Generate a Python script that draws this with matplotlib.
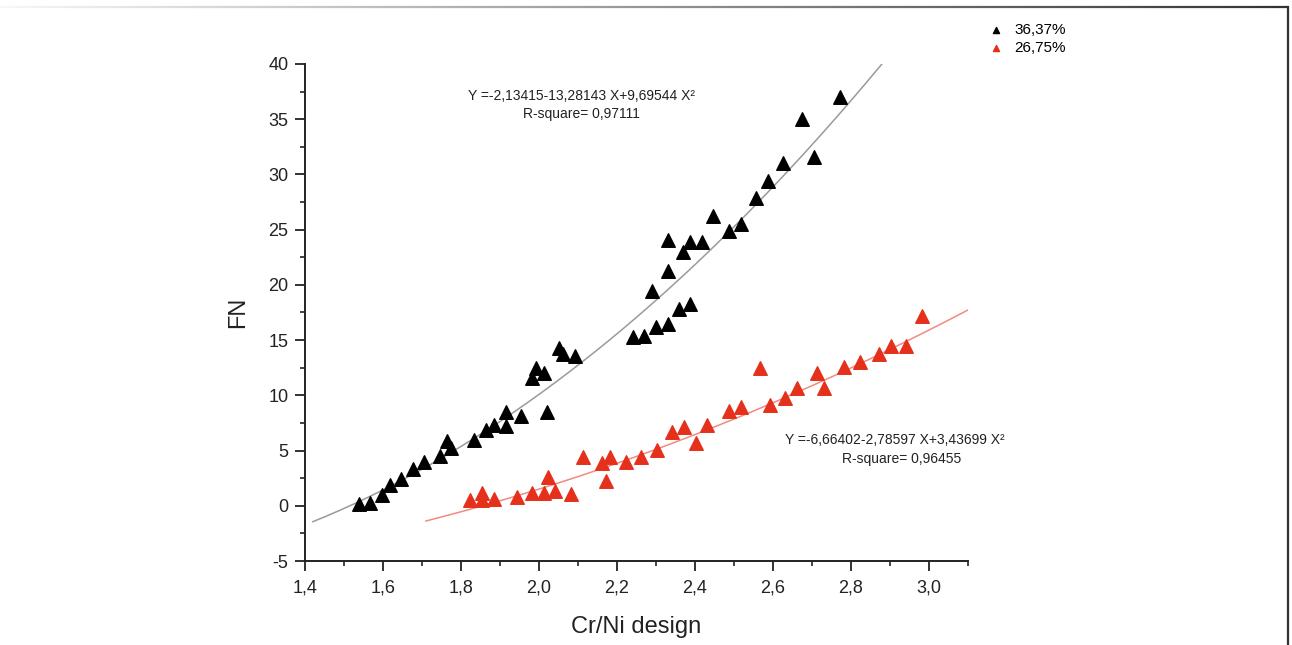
import numpy as np
import matplotlib
matplotlib.use("Agg")
import matplotlib.pyplot as plt
from matplotlib.ticker import FuncFormatter, MultipleLocator
from matplotlib.collections import LineCollection

plt.rcParams['font.family'] = ['Liberation Sans', 'DejaVu Sans']

# ---- data ----
black_x = [1.539, 1.567, 1.597, 1.618, 1.646, 1.676, 1.706, 1.746, 1.763, 1.774,
           1.834, 1.864, 1.885, 1.915, 1.915, 1.953, 2.021, 1.981, 1.992, 2.014,
           2.052, 2.062, 2.092, 2.240, 2.270, 2.300, 2.330, 2.359, 2.387, 2.289,
           2.330, 2.368, 2.330, 2.387, 2.419, 2.487, 2.517, 2.447, 2.556, 2.586,
           2.625, 2.675, 2.705, 2.773]
black_y = [0.2, 0.25, 0.95, 1.9, 2.4, 3.3, 4.0, 4.5, 5.85, 5.25,
           6.0, 6.9, 7.3, 7.2, 8.5, 8.15, 8.45, 11.6, 12.5, 12.05,
           14.25, 13.75, 13.55, 15.3, 15.4, 16.2, 16.5, 17.8, 18.3, 19.45,
           21.25, 22.95, 24.05, 23.85, 23.85, 24.9, 25.55, 26.25, 27.85, 29.45,
           31.0, 35.0, 31.6, 37.0]

red_x = [1.823, 1.854, 1.854, 1.885, 1.944, 1.982, 2.012, 2.022, 2.042, 2.082,
         2.112, 2.162, 2.172, 2.182, 2.222, 2.262, 2.302, 2.342, 2.372, 2.402,
         2.432, 2.487, 2.517, 2.567, 2.592, 2.632, 2.662, 2.712, 2.732, 2.782,
         2.822, 2.872, 2.902, 2.942, 2.982]
red_y = [0.5, 1.15, 0.5, 0.65, 0.75, 1.15, 1.15, 2.65, 1.35, 1.05,
         4.45, 3.85, 2.25, 4.45, 3.95, 4.4, 5.05, 6.65, 7.15, 5.65,
         7.35, 8.55, 8.95, 12.45, 9.15, 9.75, 10.65, 12.05, 10.65, 12.55,
         13.05, 13.75, 14.45, 14.45, 17.15]

# fit coefficients shown on the chart
black_coef = [-2.13415, -13.28143, 9.69544]
red_coef = [-6.66402, -2.78597, 3.43699]
black_label = "36,37%"
red_label = "26,75%"
black_eq = ["Y =-2,13415-13,28143 X+9,69544 X²", "R-square= 0,97111"]
red_eq = ["Y =-6,66402-2,78597 X+3,43699 X²", "R-square= 0,96455"]
x_ticks = [1.4, 1.6, 1.8, 2.0, 2.2, 2.4, 2.6, 2.8, 3.0]
y_ticks = [-5, 0, 5, 10, 15, 20, 25, 30, 35, 40]

W, H = 1292, 645
fig = plt.figure(figsize=(W/100, H/100), dpi=100)
L, R, T, B = 305, 968, 64, 561
ax = fig.add_axes([L/W, 1-B/H, (R-L)/W, (B-T)/H])

# fit curves
xb = np.linspace(1.42, 2.9, 300)
yb = black_coef[0] + black_coef[1]*xb + black_coef[2]*xb**2
ax.plot(xb, yb, color='#9a9a9a', lw=1.1, zorder=2)
xr = np.linspace(1.71, 3.1, 300)
yr = red_coef[0] + red_coef[1]*xr + red_coef[2]*xr**2
ax.plot(xr, yr, color='#f28a80', lw=1.1, zorder=2)

ax.scatter(black_x, black_y, marker='^', s=95, color='black', zorder=3, label=black_label)
ax.scatter(red_x, red_y, marker='^', s=95, color='#e5301b', zorder=3, label=red_label)

ax.set_xlim(1.4, 3.1)
ax.set_ylim(-5, 40)
ax.set_xticks(x_ticks)
ax.set_yticks(y_ticks)
ax.xaxis.set_minor_locator(MultipleLocator(0.1))
ax.yaxis.set_minor_locator(MultipleLocator(2.5))
ax.xaxis.set_major_formatter(FuncFormatter(lambda v, p: f"{v:.1f}".replace('.', ',')))
ax.yaxis.set_major_formatter(FuncFormatter(lambda v, p: f"{int(round(v))}"))
for s in ['top', 'right']:
    ax.spines[s].set_visible(False)
for s in ['left', 'bottom']:
    ax.spines[s].set_linewidth(1.4)
    ax.spines[s].set_color('#222222')
ax.tick_params(which='major', direction='out', length=7, width=1.3, labelsize=13,
               colors='#222222')
ax.tick_params(which='minor', direction='out', length=3.5, width=1.2, colors='#222222')
ax.tick_params(axis='x', pad=6)
ax.tick_params(axis='y', pad=5)
ax.set_xlabel("Cr/Ni design", fontsize=17, color='#222222', labelpad=14)
ax.set_ylabel("FN", fontsize=17, color='#222222', labelpad=14)

# equations
fc = '#222222'
fig.text(581/W, 1-96/H, black_eq[0], fontsize=10, ha='center', va='center', color=fc)
fig.text(581/W, 1-114/H, black_eq[1], fontsize=10, ha='center', va='center', color=fc)
fig.text(895/W, 1-440/H, red_eq[0], fontsize=10, ha='center', va='center', color=fc)
fig.text(902/W, 1-459/H, red_eq[1], fontsize=10, ha='center', va='center', color=fc)

# legend
fig.legend(handles=ax.collections[:2], labels=[black_label, red_label],
           loc='upper left', bbox_to_anchor=(973/W, 1-9/H), frameon=False,
           fontsize=11, markerscale=0.45, handletextpad=0.6, labelspacing=0.25,
           handlelength=1.2)

# frame lines (top gradient + right border)
n = 200
xs = np.linspace(0.0, 1288/W, n+1)
ytop = 1-7/H
segs = [[(xs[i], ytop), (xs[i+1], ytop)] for i in range(n)]
cols = [(g, g, g) for g in np.linspace(0.97, 0.2, n)]
lc = LineCollection(segs, colors=cols, linewidths=1.6, transform=fig.transFigure)
fig.add_artist(lc)
fig.add_artist(plt.Line2D([1288/W, 1288/W], [ytop, 0], transform=fig.transFigure,
                          color='#333333', lw=1.6))

fig.savefig("out.png", dpi=100)
